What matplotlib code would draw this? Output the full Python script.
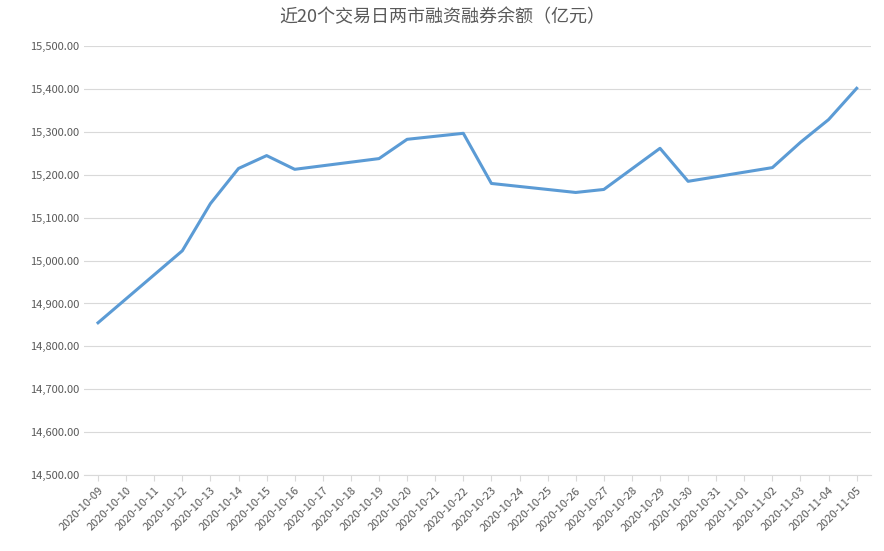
import matplotlib.pyplot as plt
import matplotlib.dates as mdates
import numpy as np
import pandas as pd

plt.rcParams['font.family'] = ['Noto Sans CJK SC', 'DejaVu Sans']

dates = ["2020-10-09", "2020-10-12", "2020-10-13", "2020-10-14", "2020-10-15",
         "2020-10-16", "2020-10-19", "2020-10-20", "2020-10-21", "2020-10-22",
         "2020-10-23", "2020-10-26", "2020-10-27", "2020-10-28", "2020-10-29",
         "2020-10-30", "2020-11-02", "2020-11-03", "2020-11-04", "2020-11-05"]
balance = [14855, 15023, 15133, 15215, 15245,
           15213, 15238, 15283, 15290, 15297,
           15180, 15159, 15166, 15214, 15262,
           15185, 15217, 15276, 15329, 15402]
title = "近20个交易日两市融资融券余额（亿元）"

x = pd.to_datetime(dates)
all_days = pd.date_range(x[0], x[-1], freq="D")

fig = plt.figure(figsize=(8.84, 5.51), dpi=100)
ax = fig.add_axes([0.095, 0.138, 0.89, 0.778])
ax.plot(x, balance, color="#5b9bd5", linewidth=2.2)

ax.set_ylim(14500, 15500)
ax.set_yticks(np.arange(14500, 15501, 100))
ax.yaxis.set_major_formatter(plt.FuncFormatter(lambda v, p: f"{v:,.2f}"))
ax.set_xlim(all_days[0] - pd.Timedelta(days=0.5), all_days[-1] + pd.Timedelta(days=0.5))
ax.set_xticks(all_days)
ax.set_xticklabels([d.strftime("%Y-%m-%d") for d in all_days], rotation=45,
                   ha="right", rotation_mode="anchor")
ax.tick_params(axis="both", labelsize=8, colors="#595959", length=0)
ax.tick_params(axis="x", length=4, color="#d9d9d9")
ax.grid(axis="y", color="#d9d9d9", linewidth=0.8)
ax.set_axisbelow(True)
for s in ["top", "right", "left"]:
    ax.spines[s].set_visible(False)
ax.spines["bottom"].set_color("#d9d9d9")

fig.suptitle(title, y=0.985, fontsize=13, color="#595959")
fig.savefig("out.png", dpi=100)
